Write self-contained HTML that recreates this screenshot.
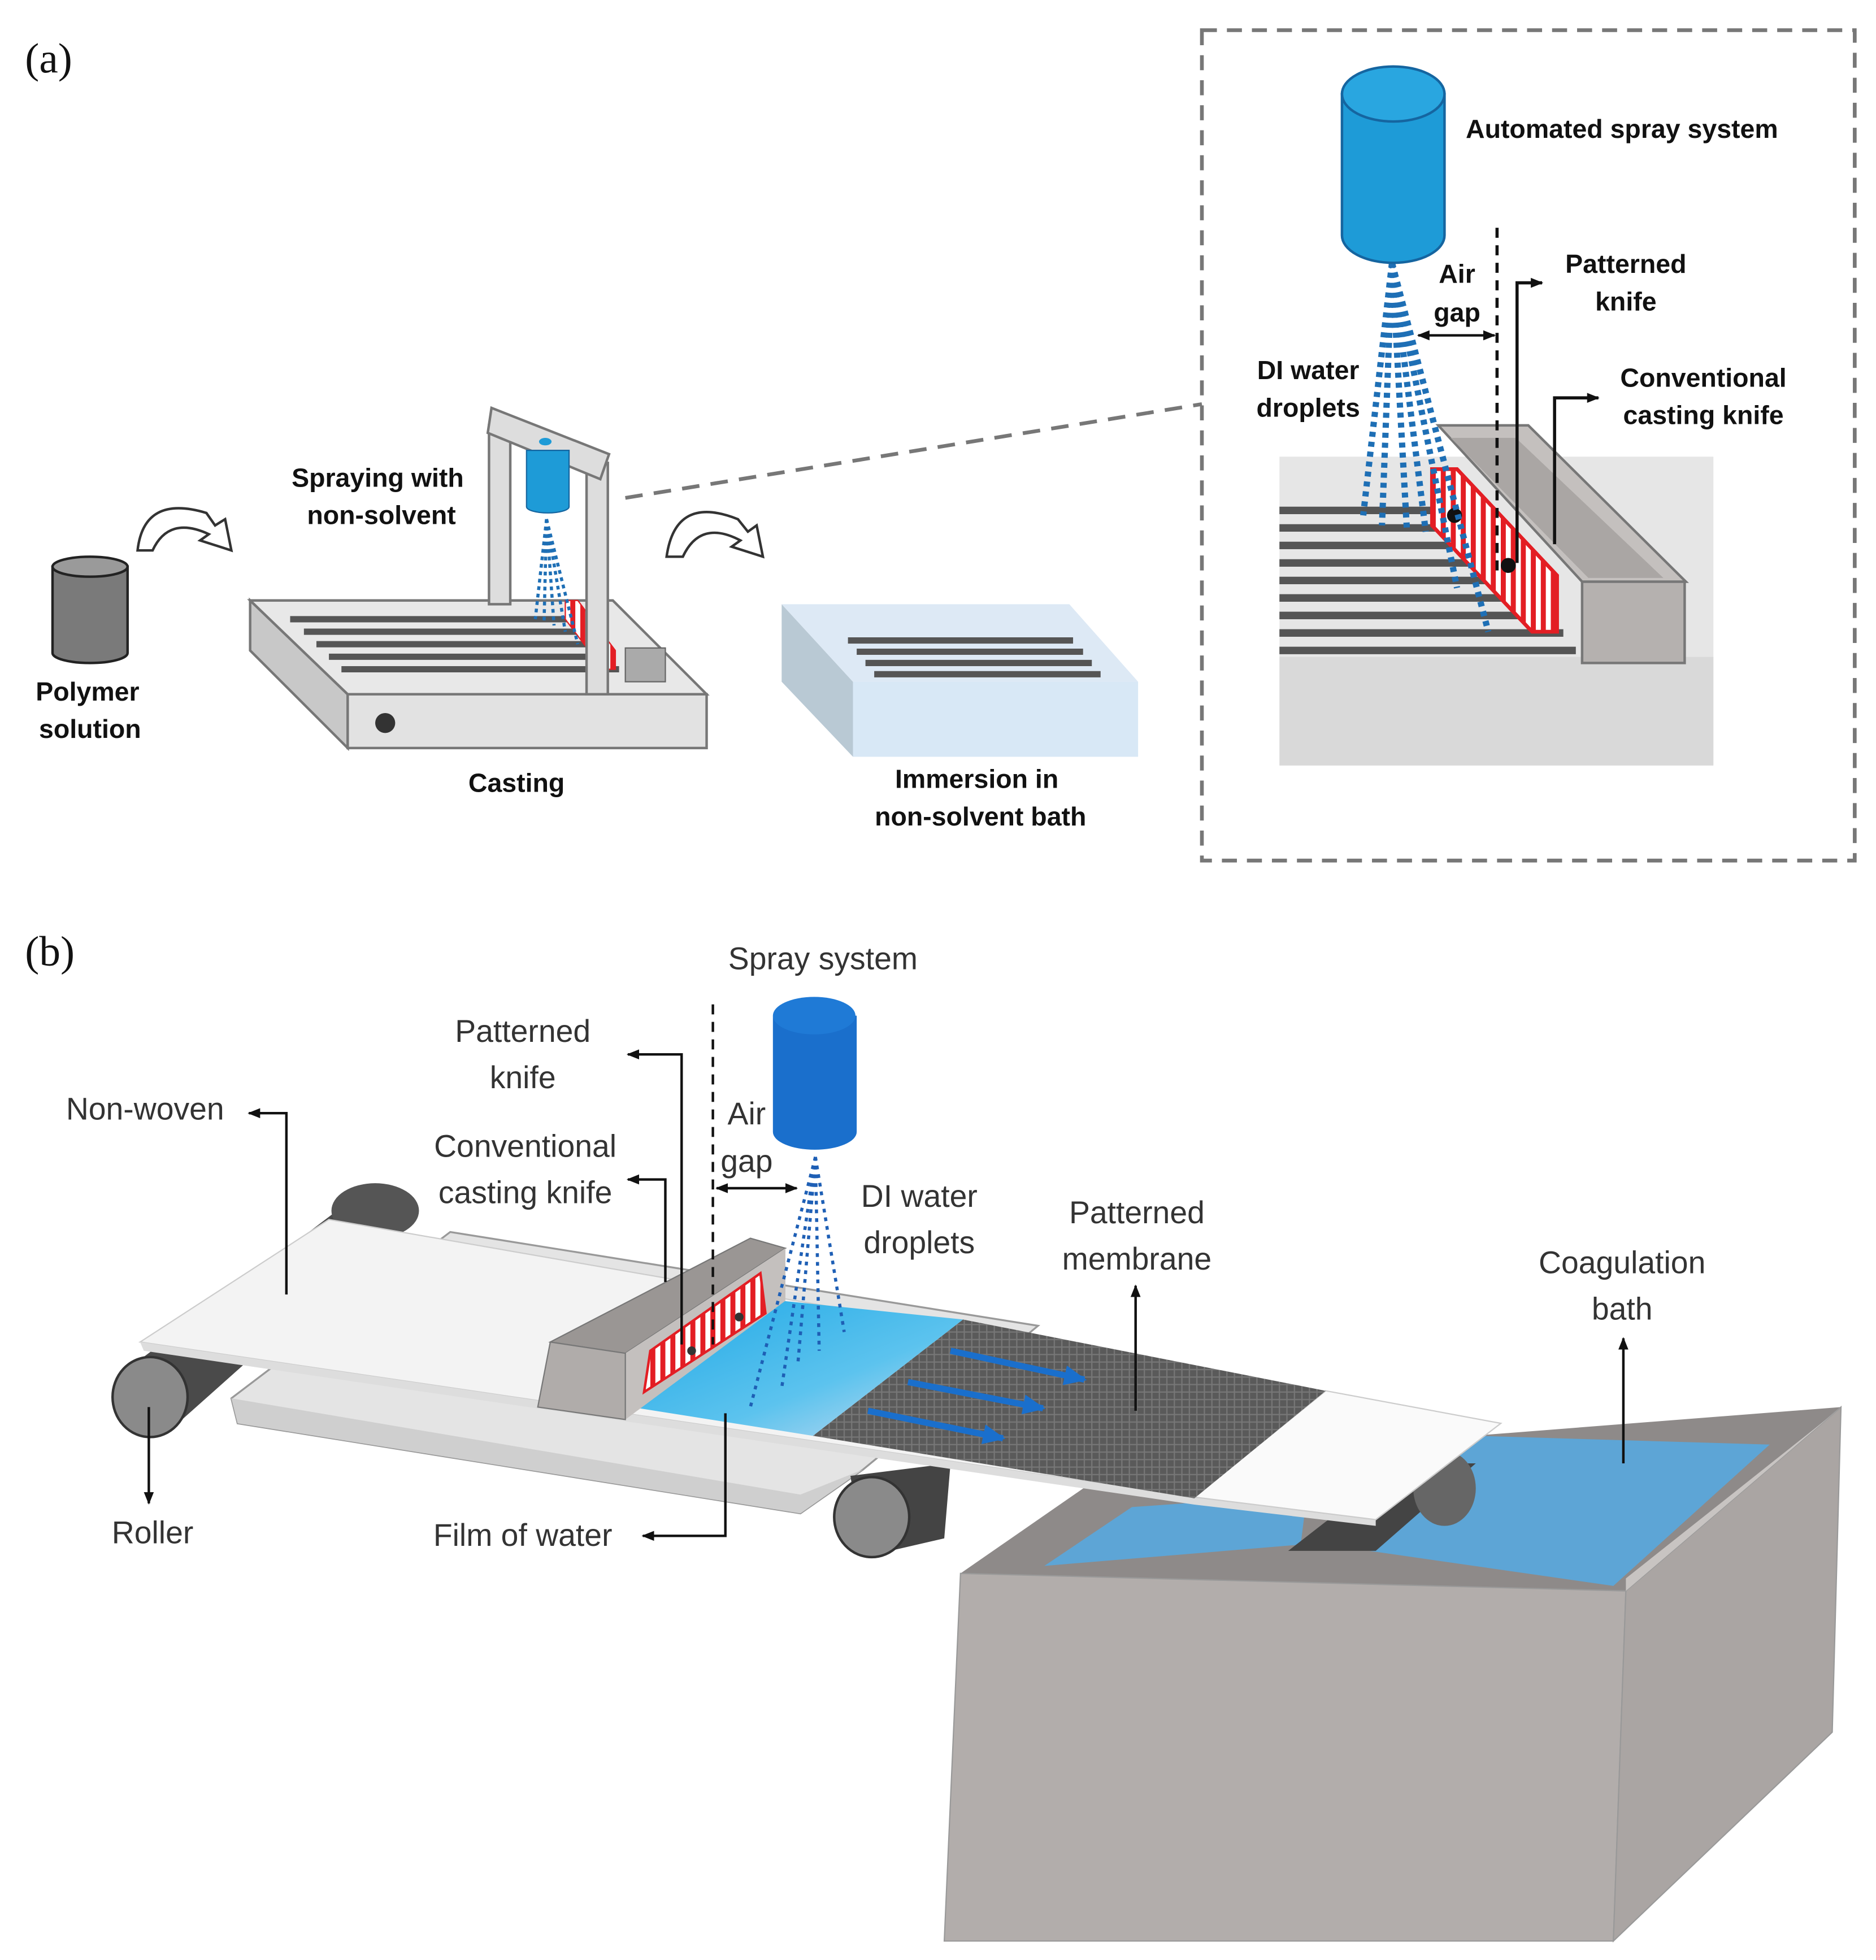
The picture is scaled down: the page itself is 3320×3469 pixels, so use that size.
<!DOCTYPE html>
<html><head><meta charset="utf-8"><style>
html,body{margin:0;padding:0;background:#fff}
svg{display:block}
.b{font-family:"Liberation Sans",sans-serif;font-weight:bold;font-size:21px;fill:#111;text-anchor:middle}
.n{font-family:"Liberation Sans",sans-serif;font-size:25px;fill:#333;text-anchor:middle}
.s{font-family:"Liberation Serif",serif;font-size:34px;fill:#111}
</style></head><body>
<svg width="3320" height="3469" viewBox="0 0 1500 1567" xmlns="http://www.w3.org/2000/svg">
<defs>
<marker id="ah" markerUnits="userSpaceOnUse" markerWidth="10" markerHeight="10" refX="9" refY="5" orient="auto"><path d="M0,1 L10,5 L0,9z" fill="#111"/></marker>
<marker id="ahs" markerUnits="userSpaceOnUse" markerWidth="10" markerHeight="10" refX="1" refY="5" orient="auto"><path d="M10,1 L0,5 L10,9z" fill="#111"/></marker>
<marker id="ba" markerUnits="userSpaceOnUse" markerWidth="18" markerHeight="16" refX="16" refY="8" orient="auto"><path d="M0,0 L18,8 L0,16z" fill="#1a6fcc"/></marker>
<linearGradient id="wg" x1="0" y1="0" x2="1" y2="1"><stop offset="0" stop-color="#1fa8e6"/><stop offset="0.6" stop-color="#5cc3ee"/><stop offset="1" stop-color="#c9dcf0"/></linearGradient>
<pattern id="mesh" width="6" height="6" patternUnits="userSpaceOnUse"><rect width="6" height="6" fill="#5a5a5a"/><path d="M0,3h6M3,0v6" stroke="#777" stroke-width="1"/></pattern>
<pattern id="rs" width="8" height="8" patternUnits="userSpaceOnUse"><rect width="8" height="8" fill="#fff"/><rect width="4" height="8" fill="#e31e24"/></pattern>
</defs>

<text class="s" x="20" y="58">(a)</text>
<rect x="961" y="24" width="522" height="664" fill="none" stroke="#777" stroke-width="3" stroke-dasharray="12,8"/>
<line x1="500" y1="398" x2="961" y2="323" stroke="#777" stroke-width="3" stroke-dasharray="14,9"/>

<path d="M42,453 L42,522 A30,8 0 0 0 102,522 L102,453z" fill="#7a7a7a" stroke="#222" stroke-width="2"/>
<ellipse cx="72" cy="453" rx="30" ry="8" fill="#9a9a9a" stroke="#222" stroke-width="2"/>
<text class="b" x="70" y="560">Polymer</text><text class="b" x="72" y="590">solution</text>

<g fill="#fff" stroke="#333" stroke-width="2">
<path d="M110,440 Q115,395 165,410 L172,420 L180,415 L185,440 L160,432 L167,427 Q135,412 122,440z"/>
<path d="M533,445 Q540,395 590,415 L598,425 L605,420 L610,445 L585,437 L592,432 Q560,415 546,445z"/>
</g>

<polygon points="200,480 278,555 278,598 200,520" fill="#c8c8c8" stroke="#777" stroke-width="2"/>
<polygon points="200,480 490,480 565,555 278,555" fill="#e8e8e8" stroke="#777" stroke-width="2"/>
<rect x="278" y="555" width="287" height="43" fill="#e2e2e2" stroke="#777" stroke-width="2"/>
<g stroke="#555" stroke-width="5">
<line x1="232" y1="495" x2="460" y2="495"/><line x1="243" y1="505" x2="470" y2="505"/><line x1="253" y1="515" x2="480" y2="515"/><line x1="263" y1="525" x2="488" y2="525"/><line x1="273" y1="535" x2="495" y2="535"/>
</g>
<circle cx="308" cy="578" r="8" fill="#333"/>
<polygon points="500,518 532,518 532,545 500,545" fill="#aaa" stroke="#666"/>
<polygon points="452,480 462,480 492,520 492,535 482,535 452,495" fill="url(#rs)" stroke="#e31e24"/>
<g stroke="#1e6fb5" stroke-width="2.5" stroke-dasharray="3,3" fill="none">
<line x1="437" y1="415" x2="428" y2="495"/><line x1="437" y1="415" x2="435" y2="498"/><line x1="437" y1="415" x2="443" y2="500"/><line x1="437" y1="415" x2="452" y2="505"/><line x1="437" y1="415" x2="462" y2="515"/>
</g>
<rect x="391" y="340" width="17" height="143" fill="#ddd" stroke="#777" stroke-width="2"/>
<rect x="469" y="370" width="17" height="185" fill="#ddd" stroke="#777" stroke-width="2"/>
<polygon points="393,326 487,363 480,383 390,346" fill="#ddd" stroke="#777" stroke-width="2"/>
<path d="M421,360 L421,405 A17,5 0 0 0 455,405 L455,360z" fill="#1e9bd7" stroke="#1565a0"/>
<ellipse cx="436" cy="353" rx="5" ry="3" fill="#1e9bd7"/>
<text class="b" x="302" y="389">Spraying with</text><text class="b" x="305" y="419">non-solvent</text>
<text class="b" x="413" y="633">Casting</text>

<polygon points="625,483 682,545 682,605 625,545" fill="#b9c9d4"/>
<polygon points="625,483 855,483 910,545 682,545" fill="#dde9f5"/>
<rect x="682" y="545" width="228" height="60" fill="#d8e8f6"/>
<g stroke="#555" stroke-width="5">
<line x1="678" y1="512" x2="858" y2="512"/><line x1="685" y1="521" x2="866" y2="521"/><line x1="692" y1="530" x2="873" y2="530"/><line x1="699" y1="539" x2="880" y2="539"/>
</g>
<text class="b" x="781" y="630">Immersion in</text><text class="b" x="784" y="660">non-solvent bath</text>

<rect x="1023" y="525" width="347" height="87" fill="#d9d9d9"/>
<rect x="1023" y="365" width="347" height="160" fill="#e6e6e6"/>
<g stroke="#555" stroke-width="6">
<line x1="1023" y1="408" x2="1150" y2="408"/><line x1="1023" y1="422" x2="1160" y2="422"/><line x1="1023" y1="436" x2="1175" y2="436"/><line x1="1023" y1="450" x2="1190" y2="450"/><line x1="1023" y1="464" x2="1205" y2="464"/><line x1="1023" y1="478" x2="1220" y2="478"/><line x1="1023" y1="492" x2="1235" y2="492"/><line x1="1023" y1="506" x2="1250" y2="506"/><line x1="1023" y1="520" x2="1260" y2="520"/>
</g>
<polygon points="1150,340 1222,340 1348,465 1265,465" fill="#c4c0be" stroke="#777" stroke-width="2"/>
<polygon points="1160,350 1212,350 1330,462 1270,462" fill="#aaa6a4"/>
<rect x="1265" y="465" width="82" height="65" fill="#b5b1af" stroke="#777" stroke-width="2"/>
<polygon points="1145,375 1165,375 1245,460 1245,505 1225,505 1145,420" fill="url(#rs)" stroke="#e31e24" stroke-width="3"/>
<circle cx="1163" cy="412" r="6" fill="#111"/><circle cx="1206" cy="452" r="6" fill="#111"/>
<g stroke="#1e6fb5" stroke-width="5" stroke-dasharray="4,4" fill="none">
<line x1="1113" y1="210" x2="1090" y2="412"/><line x1="1113" y1="210" x2="1105" y2="420"/><line x1="1113" y1="210" x2="1125" y2="425"/><line x1="1113" y1="210" x2="1140" y2="425"/><line x1="1113" y1="210" x2="1165" y2="470"/><line x1="1113" y1="210" x2="1190" y2="505"/>
</g>
<path d="M1073,75 L1073,188 A41,22 0 0 0 1155,188 L1155,75z" fill="#1e9bd7" stroke="#1565a0" stroke-width="2"/>
<ellipse cx="1114" cy="75" rx="41" ry="22" fill="#29a6e0" stroke="#1565a0" stroke-width="2"/>
<line x1="1197" y1="182" x2="1197" y2="460" stroke="#111" stroke-width="2.5" stroke-dasharray="8,6"/>
<line x1="1134" y1="268" x2="1195" y2="268" stroke="#111" stroke-width="2" marker-start="url(#ahs)" marker-end="url(#ah)"/>
<polyline points="1213,450 1213,226 1233,226" fill="none" stroke="#111" stroke-width="2.5" marker-end="url(#ah)"/>
<polyline points="1243,435 1243,318 1278,318" fill="none" stroke="#111" stroke-width="2.5" marker-end="url(#ah)"/>
<text class="b" x="1172" y="110" style="text-anchor:start">Automated spray system</text>
<text class="b" x="1165" y="226">Air</text><text class="b" x="1165" y="257">gap</text>
<text class="b" x="1300" y="218">Patterned</text><text class="b" x="1300" y="248">knife</text>
<text class="b" x="1362" y="309">Conventional</text><text class="b" x="1362" y="339">casting knife</text>
<text class="b" x="1046" y="303">DI water</text><text class="b" x="1046" y="333">droplets</text>

<text class="s" x="20" y="772">(b)</text>

<polygon points="768,1258 895,1170 1472,1125 1300,1272" fill="#8e8a89"/>
<polygon points="835,1252 905,1205 1045,1195 1040,1235" fill="#5da5d6"/>
<polygon points="1095,1240 1180,1148 1415,1155 1290,1268" fill="#5da5d6"/>
<polygon points="768,1258 1300,1272 1290,1552 755,1552" fill="#b2adab" stroke="#999"/>
<polygon points="1300,1272 1472,1125 1465,1385 1290,1552" fill="#aaa5a3" stroke="#999"/>
<polygon points="1300,1272 1472,1125 1460,1135 1300,1262" fill="#c8c4c2"/>
<polygon points="1120,1170 1180,1170 1100,1240 1030,1240" fill="#444"/>
<ellipse cx="1155" cy="1190" rx="25" ry="30" fill="#666"/>
<polygon points="95,1100 280,960 325,975 140,1140" fill="#4a4a4a"/>
<ellipse cx="300" cy="968" rx="35" ry="22" fill="#555"/>
<ellipse cx="120" cy="1117" rx="30" ry="32" fill="#8a8a8a" stroke="#333" stroke-width="2"/>
<polygon points="185,1118 360,985 830,1060 690,1175 640,1210 190,1138" fill="#e4e4e4" stroke="#999" stroke-width="1.5"/>
<polygon points="190,1138 640,1210 690,1175 640,1195 185,1118" fill="#cfcfcf"/>
<polygon points="680,1180 760,1170 755,1230 690,1245" fill="#444"/>
<ellipse cx="697" cy="1213" rx="30" ry="32" fill="#8a8a8a" stroke="#333" stroke-width="2"/>
<polygon points="112,1073 263,975 1200,1138 1100,1215 955,1197" fill="#f3f3f3" stroke="#ccc"/>
<polygon points="112,1073 955,1197 1100,1215 1100,1220 955,1203 115,1080" fill="#ddd"/>
<polygon points="1060,1112 1200,1138 1100,1215 955,1197" fill="#fafafa" stroke="#ccc"/>
<polygon points="650,1148 770,1055 1060,1112 955,1198" fill="url(#mesh)"/>
<polygon points="505,1125 625,1040 770,1055 650,1148" fill="url(#wg)"/>
<polygon points="440,1073 600,990 628,998 500,1082" fill="#9a9694" stroke="#777"/>
<polygon points="500,1082 628,998 628,1040 500,1135" fill="#c4c0be"/>
<polygon points="440,1073 500,1082 500,1135 430,1125" fill="#b0acaa" stroke="#777"/>
<polygon points="515,1113 520,1080 608,1018 612,1050" fill="url(#rs)" stroke="#e31e24" stroke-width="2"/>
<circle cx="553" cy="1080" r="3.5" fill="#333"/><circle cx="591" cy="1053" r="3.5" fill="#333"/>
<g stroke="#1a6fcc" stroke-width="5" marker-end="url(#ba)">
<line x1="760" y1="1080" x2="867" y2="1103"/><line x1="726" y1="1105" x2="834" y2="1126"/><line x1="694" y1="1128" x2="802" y2="1150"/>
</g>
<g stroke="#1e5fb5" stroke-width="2.5" stroke-dasharray="3,4" fill="none">
<line x1="652" y1="925" x2="600" y2="1125"/><line x1="652" y1="925" x2="625" y2="1110"/><line x1="652" y1="925" x2="638" y2="1090"/><line x1="652" y1="925" x2="655" y2="1080"/><line x1="652" y1="925" x2="675" y2="1065"/>
</g>
<path d="M618,812 L618,905 A33,14 0 0 0 685,905 L685,812z" fill="#1a6fcc"/>
<ellipse cx="651" cy="812" rx="33" ry="15" fill="#1f7ad6"/>
<g fill="none" stroke="#111" stroke-width="2">
<line x1="570" y1="803" x2="570" y2="1075" stroke-dasharray="8,6"/>
<line x1="573" y1="950" x2="637" y2="950" marker-start="url(#ahs)" marker-end="url(#ah)"/>
<polyline points="545,1075 545,843 502,843" marker-end="url(#ah)"/>
<polyline points="532,1025 532,943 502,943" marker-end="url(#ah)"/>
<polyline points="229,1035 229,890 199,890" marker-end="url(#ah)"/>
<polyline points="580,1130 580,1228 514,1228" marker-end="url(#ah)"/>
<line x1="119" y1="1125" x2="119" y2="1202" marker-end="url(#ah)"/>
<line x1="908" y1="1128" x2="908" y2="1028" marker-end="url(#ah)"/>
<line x1="1298" y1="1170" x2="1298" y2="1070" marker-end="url(#ah)"/>
</g>
<text class="n" x="658" y="775">Spray system</text>
<text class="n" x="418" y="833">Patterned</text><text class="n" x="418" y="870">knife</text>
<text class="n" x="116" y="895">Non-woven</text>
<text class="n" x="420" y="925">Conventional</text><text class="n" x="420" y="962">casting knife</text>
<text class="n" x="597" y="899">Air</text><text class="n" x="597" y="937">gap</text>
<text class="n" x="735" y="965">DI water</text><text class="n" x="735" y="1002">droplets</text>
<text class="n" x="909" y="978">Patterned</text><text class="n" x="909" y="1015">membrane</text>
<text class="n" x="1297" y="1018">Coagulation</text><text class="n" x="1297" y="1055">bath</text>
<text class="n" x="122" y="1234">Roller</text>
<text class="n" x="418" y="1236">Film of water</text>
</svg>
</body></html>
